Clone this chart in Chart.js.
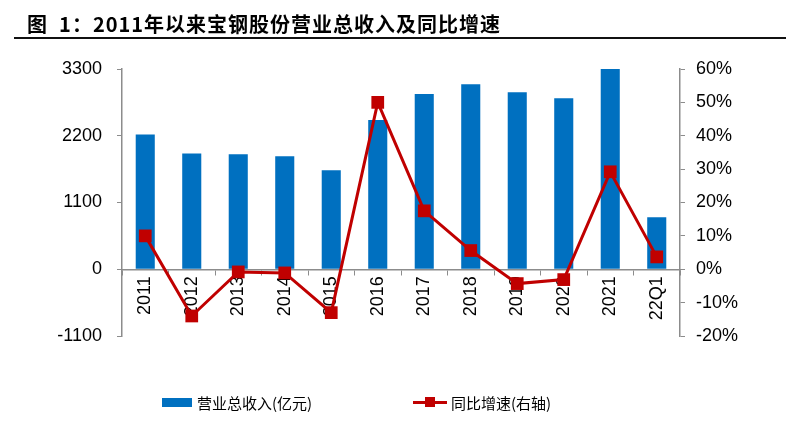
<!DOCTYPE html>
<html>
<head>
<meta charset="utf-8">
<script src="https://cdn.jsdelivr.net/npm/chart.js@4/dist/chart.umd.min.js"></script>
<style>
  html, body { margin: 0; padding: 0; background: #fff; }
  #wrap { position: relative; width: 800px; height: 429px; overflow: hidden; }
  #title { position: absolute; left: 27px; top: 9px; font: bold 20px "Noto Sans CJK SC", sans-serif; color: #000; white-space: nowrap; letter-spacing: 1px; }
  #rule { position: absolute; left: 14px; width: 772px; top: 37px; height: 2px; background: #111; }
  #chartBox { position: absolute; left: 0; top: 0; width: 800px; height: 429px; }
  .lg { position: absolute; top: 392px; height: 20px; display: flex; align-items: center; font: 15px "Noto Sans CJK SC", sans-serif; color: #000; white-space: nowrap; }
</style>
</head>
<body>
<div id="wrap">
  <div id="chartBox"><canvas id="c" width="800" height="429"></canvas></div>
  <div id="title">图&nbsp;&nbsp;1：2011年以来宝钢股份营业总收入及同比增速</div>
  <div id="rule"></div>
  <div id="lg1" class="lg" style="left:162px;"></div>
  <div id="lg2" class="lg" style="left:413px;"></div>
</div>
<script>
const categories = ['2011','2012','2013','2014','2015','2016','2017','2018','2019','2020','2021','22Q1'];
const revenue = [2222, 1909, 1897, 1864, 1633, 2458, 2887, 3047, 2915, 2816, 3300, 858];
const growth = [10.0, -14.0, -0.8, -1.1, -13.0, 50.0, 17.5, 5.6, -4.3, -3.1, 29.2, 3.7];
const leftTicks = [-1100, 0, 1100, 2200, 3300];
const rightTicks = [-20, -10, 0, 10, 20, 30, 40, 50, 60];
const revenueLabel = '营业总收入(亿元)';
const growthLabel = '同比增速(右轴)';

const BLUE = '#0070C0';
const RED = '#C00000';
const AXIS = '#8c8c8c';
const FONT = { family: 'Arial, "Liberation Sans", sans-serif', size: 18 };

const chart = new Chart(document.getElementById('c'), {
  type: 'bar',
  data: {
    labels: categories,
    datasets: [
      {
        type: 'bar', label: revenueLabel, data: revenue, backgroundColor: BLUE,
        yAxisID: 'y', order: 2, barPercentage: 0.82, categoryPercentage: 0.5
      },
      {
        type: 'line', label: growthLabel, data: growth, borderColor: RED, backgroundColor: RED,
        borderWidth: 3, pointStyle: 'rect', pointRadius: 9, pointBackgroundColor: RED,
        pointBorderColor: RED, pointBorderWidth: 0, yAxisID: 'y1', order: 1, clip: false, tension: 0
      }
    ]
  },
  options: {
    responsive: false, animation: false,
    layout: { padding: { top: 69, bottom: 93, left: 0, right: 0 } },
    plugins: { legend: { display: false }, tooltip: { enabled: false } },
    scales: {
      x: {
        position: { y: 0 },
        offset: true,
        grid: { display: true, drawOnChartArea: false, drawTicks: true, tickLength: 5, color: AXIS, offset: true },
        border: { display: true, color: AXIS, width: 1.5 },
        ticks: { color: '#000', font: FONT, minRotation: 90, maxRotation: 90, padding: 2, autoSkip: false }
      },
      y: {
        position: 'left', min: -1100, max: 3300,
        afterBuildTicks: s => { s.ticks = leftTicks.map(v => ({ value: v })); },
        afterFit: s => { s.width = 122; },
        grid: { drawOnChartArea: false, drawTicks: true, tickLength: 5, color: AXIS },
        border: { display: true, color: AXIS, width: 1.5 },
        ticks: { color: '#000', font: FONT, padding: 15, callback: v => String(v) }
      },
      y1: {
        position: 'right', min: -20, max: 60,
        afterBuildTicks: s => { s.ticks = rightTicks.map(v => ({ value: v })); },
        afterFit: s => { s.width = 120; },
        grid: { drawOnChartArea: false, drawTicks: true, tickLength: 5, color: AXIS },
        border: { display: true, color: AXIS, width: 1.5 },
        ticks: { color: '#000', font: FONT, padding: 11, callback: v => v + '%' }
      }
    }
  }
});

// HTML legend built from the datasets
function makeLegend(el, ds, isLine) {
  const sw = document.createElement('span');
  sw.style.cssText = 'position:relative;display:inline-block;width:' + (isLine ? 34 : 30) + 'px;height:10px;margin-right:' + (isLine ? 4 : 5) + 'px;';
  if (isLine) {
    const ln = document.createElement('span');
    ln.style.cssText = 'position:absolute;left:0;top:4px;width:34px;height:3px;background:' + ds.borderColor + ';';
    const mk = document.createElement('span');
    mk.style.cssText = 'position:absolute;left:12px;top:0px;width:10px;height:10px;background:' + ds.backgroundColor + ';';
    sw.appendChild(ln); sw.appendChild(mk);
  } else {
    sw.style.height = '9px';
    sw.style.background = ds.backgroundColor;
  }
  const tx = document.createElement('span');
  tx.textContent = ds.label;
  el.appendChild(sw); el.appendChild(tx);
}
makeLegend(document.getElementById('lg1'), chart.data.datasets[0], false);
makeLegend(document.getElementById('lg2'), chart.data.datasets[1], true);
</script>
</body>
</html>
